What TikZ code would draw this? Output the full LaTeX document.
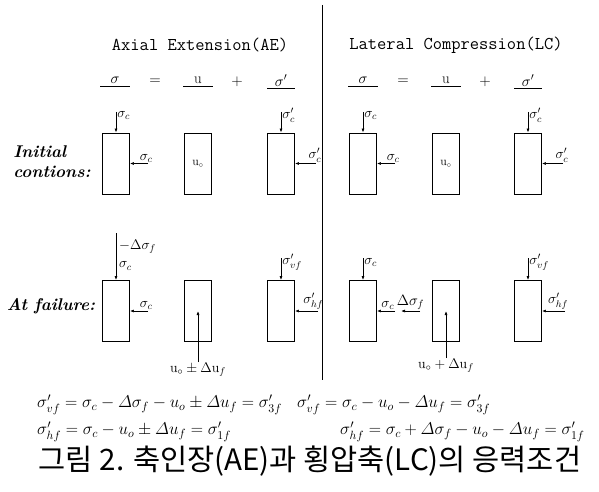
\RequirePackage{fix-cm}
\documentclass[tikz,border=0pt]{standalone}
\usepackage{amsmath,amssymb}
\usepackage{fontspec}
\newfontfamily\hangul{Noto Sans CJK KR}
\usetikzlibrary{arrows.meta,positioning}
\tikzset{
  specimen/.style={draw,line width=0.9pt,minimum width=27pt,minimum height=61pt,inner sep=0pt,font=\fontsize{12}{13}\selectfont},
  load/.style={-{Latex[length=4pt,width=3pt]},line width=0.7pt},
  tag/.style={inner sep=1pt,font=\fontsize{14}{15}\selectfont},
  headline/.style={font=\ttfamily\fontsize{18}{20}\selectfont},
  term/.style={font=\fontsize{15}{17}\selectfont},
  rowlabel/.style={font=\bfseries\itshape\fontsize{17}{20}\selectfont,align=left},
  eqn/.style={anchor=west,inner sep=0pt,font=\fontsize{17}{18}\selectfont}
}
\begin{document}
\begin{tikzpicture}[x=1pt,y=-1pt]
  \useasboundingbox (0,0) rectangle (599,492);
  % divider
  \coordinate (T) at (322,5);
  \coordinate (B) at (322,380);
  \draw[line width=0.7pt] (T)--(B);
  % titles
  \node[headline] (titleAE) at (200,45) {Axial Extension(AE)};
  \node[headline] (titleLC) at (456,45) {Lateral Compression(LC)};
  % sigma = u + sigma'
  \node[term] (sAE) at (115,82) {\underline{\makebox[30pt]{$\sigma$}}};
  \node[term] at (155,82) {$=$};
  \node[term] (uAE) at (198,82) {\underline{\makebox[30pt]{u}}};
  \node[term] at (237,82) {$+$};
  \node[term] (eAE) at (281,82) {\underline{\makebox[28pt]{$\sigma'$}}};
  \node[term] (sLC) at (363,82) {\underline{\makebox[30pt]{$\sigma$}}};
  \node[term] at (403,82) {$=$};
  \node[term] (uLC) at (446,82) {\underline{\makebox[30pt]{u}}};
  \node[term] at (485,82) {$+$};
  \node[term] (eLC) at (528,82) {\underline{\makebox[28pt]{$\sigma'$}}};
  % row labels
  \node[rowlabel] (init) at (52,162) {Initial\\contions:};
  \node[rowlabel] (fail) at (51,306) {At failure:};

  % initial conditions
  \node[specimen] (a1) at (116,163.5) {};
  \node[specimen] (a2) at (198,163.5) {u$_\circ$};
  \node[specimen] (a3) at (281,163.5) {};
  \node[specimen] (c1) at (363,163.5) {};
  \node[specimen] (c2) at (446,163.5) {u$_\circ$};
  \node[specimen] (c3) at (528,163.5) {};
  \coordinate (a1v) at (116,112);
  \coordinate (a1h) at (148,163.5);
  \coordinate (a3v) at (281,112);
  \coordinate (a3h) at (316,163.5);
  \coordinate (c1v) at (363,112);
  \coordinate (c1h) at (395,163.5);
  \coordinate (c3v) at (528,112);
  \coordinate (c3h) at (563,163.5);
  \draw[load] (a1v)--(a1.north) node[tag,pos=0.15,right]{$\sigma_c$};
  \draw[load] (a1h)--(a1.east) node[tag,pos=0.1,above]{$\sigma_c$};
  \draw[load] (a3v)--(a3.north) node[tag,pos=0.15,right]{$\sigma_c'$};
  \draw[load] (a3h)--(a3.east) node[tag,pos=0.05,above]{$\sigma_c'$};
  \draw[load] (c1v)--(c1.north) node[tag,pos=0.15,right]{$\sigma_c$};
  \draw[load] (c1h)--(c1.east) node[tag,pos=0.1,above]{$\sigma_c$};
  \draw[load] (c3v)--(c3.north) node[tag,pos=0.15,right]{$\sigma_c'$};
  \draw[load] (c3h)--(c3.east) node[tag,pos=0.05,above]{$\sigma_c'$};

  % at failure
  \node[specimen] (f1) at (116,311) {};
  \node[specimen] (f2) at (198,311) {};
  \node[specimen] (f3) at (281,311) {};
  \node[specimen] (g1) at (363,311) {};
  \node[specimen] (g2) at (446,311) {};
  \node[specimen] (g3) at (528,311) {};
  \coordinate (f1v) at (116,233);
  \coordinate (f1h) at (148,311);
  \coordinate (f2u) at (198,362);
  \coordinate (f3v) at (281,258);
  \coordinate (f3h) at (318,311);
  \coordinate (g1v) at (363,258);
  \coordinate (g1h) at (395,311);
  \coordinate (g1d) at (420,311);
  \coordinate (g1e) at (401,311);
  \coordinate (g2u) at (446,358);
  \coordinate (g3v) at (528,258);
  \coordinate (g3h) at (565,311);
  \draw[load] (f1v)--(f1.north);
  \node[tag,right] (f1d) at (118,247) {$-\Delta\sigma_f$};
  \node[tag,right] (f1c) at (118,266) {$\sigma_c$};
  \draw[load] (f1h)--(f1.east) node[tag,pos=0.1,above]{$\sigma_c$};
  \draw[load] (f2u)--(f2.center);
  \node[tag,below] (f2l) at (f2u) {u$_\circ\pm\Delta$u$_f$};
  \draw[load] (f3v)--(f3.north) node[tag,pos=0.2,right]{$\sigma_{vf}'$};
  \draw[load] (f3h)--(f3.east) node[tag,pos=0.2,above]{$\sigma_{hf}'$};
  \draw[load] (g1v)--(g1.north) node[tag,pos=0.2,right]{$\sigma_c$};
  \draw[load] (g1h)--(g1.east) node[tag,pos=0.4,above]{$\sigma_c$};
  \draw[load] (g1d)--(g1e) node[tag,midway,above,font=\fontsize{15}{16}\selectfont]{$\Delta\sigma_f$};
  \draw[load] (g2u)--(g2.center);
  \node[tag,below] (g2l) at (g2u) {u$_\circ+\Delta$u$_f$};
  \draw[load] (g3v)--(g3.north) node[tag,pos=0.2,right]{$\sigma_{vf}'$};
  \draw[load] (g3h)--(g3.east) node[tag,pos=0.3,above]{$\sigma_{hf}'$};

  % stress conditions
  \node[eqn] (e1) at (37,405) {$\sigma_{vf}'=\sigma_c-\varDelta\sigma_f-u_o\pm\varDelta u_f=\sigma_{3f}'$};
  \node[eqn] (e2) at (297,405) {$\sigma_{vf}'=\sigma_c-u_o-\varDelta u_f=\sigma_{3f}'$};
  \node[eqn] (e3) at (37,432) {$\sigma_{hf}'=\sigma_c-u_o\pm\varDelta u_f=\sigma_{1f}'$};
  \node[eqn] (e4) at (340,432) {$\sigma_{hf}'=\sigma_c+\varDelta\sigma_f-u_o-\varDelta u_f=\sigma_{1f}'$};
  \node[font=\hangul\fontsize{29.5}{31}\selectfont] (cap) at (310,461) {그림 2. 축인장(AE)과 횡압축(LC)의 응력조건};
\end{tikzpicture}
\end{document}
